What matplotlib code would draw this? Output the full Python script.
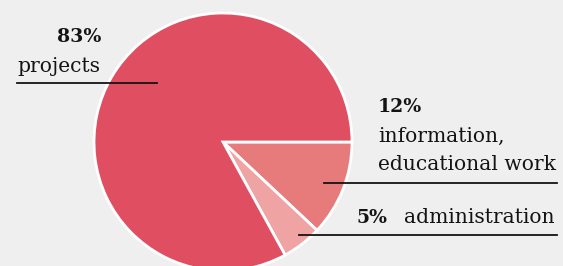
import matplotlib.pyplot as plt

# slice data, drawn clockwise from 3 o'clock
labels = ["information,\neducational work", "administration", "projects"]
shares = [12, 5, 83]
colors = ["#e77a7a", "#efa3a2", "#e04e62"]

W, H = 563, 266
fig = plt.figure(figsize=(W / 100, H / 100), dpi=100)
fig.patch.set_facecolor("#efefef")
ax = fig.add_axes([0, 0, 1, 1])
ax.set_facecolor("#efefef")

ax.pie(shares, colors=colors, startangle=0, counterclock=False,
       center=(223, H - 142), radius=129,
       wedgeprops=dict(edgecolor="white", linewidth=2))
ax.set_xlim(0, W)
ax.set_ylim(0, H)
ax.set_aspect("equal")
ax.axis("off")

serif = "DejaVu Serif"
txt = "#141414"
fs = 14.6


def put(x, y, s, ha="left", bold=False):
    ax.text(x, H - y, s, ha=ha, va="baseline", family=serif,
            fontsize=fs - 1 if bold else fs,
            fontweight="bold" if bold else "normal", color=txt)


# projects
put(101, 42, f"{shares[2]}%", ha="right", bold=True)
put(17, 72, labels[2])
ax.plot([17, 157], [H - 83, H - 83], color=txt, lw=1.3)

# information, educational work
put(378, 112, f"{shares[0]}%", bold=True)
for i, line in enumerate(labels[0].split("\n")):
    put(378, 142 + 28 * i, line)
ax.plot([324, 557], [H - 183, H - 183], color=txt, lw=1.3)

# administration
put(357, 223, f"{shares[1]}%", bold=True)
put(555, 223, labels[1], ha="right")
ax.plot([299, 557], [H - 235, H - 235], color=txt, lw=1.3)

fig.savefig("out.png", dpi=100, facecolor=fig.get_facecolor())
